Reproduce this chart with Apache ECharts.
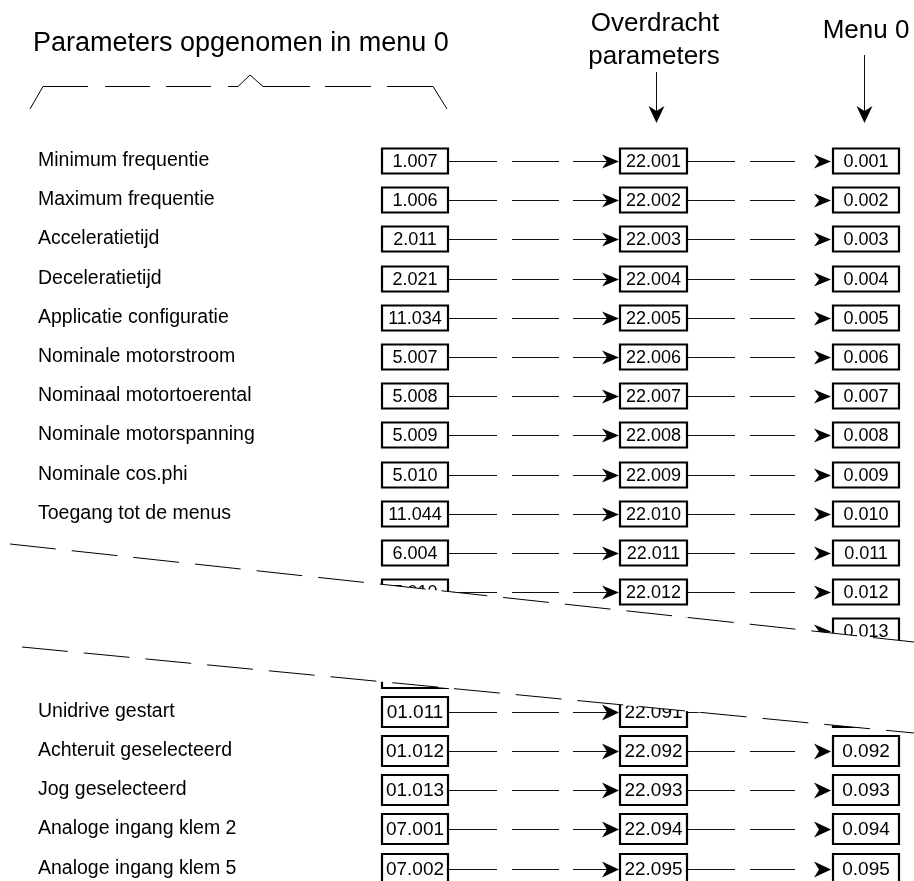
<!DOCTYPE html>
<html>
<head>
<meta charset="utf-8">
<script src="https://cdn.jsdelivr.net/npm/echarts@6/dist/echarts.min.js"></script>
<style>
html, body { margin: 0; padding: 0; background: #fff; }
#main { width: 914px; height: 881px; }
</style>
</head>
<body>
<div id="main"></div>
<script>
// rij-posities (in rijen), de onderste groep staat iets lager door de onderbreking
var rowSlots = [0, 1, 2, 3, 4, 5, 6, 7, 8, 9, 10, 11, 12, 13.05, 14.05, 15.05, 16.05, 17.05, 18.05];
var rowNames = ['Minimum frequentie', 'Maximum frequentie', 'Acceleratietijd', 'Deceleratietijd',
    'Applicatie configuratie', 'Nominale motorstroom', 'Nominaal motortoerental',
    'Nominale motorspanning', 'Nominale cos.phi', 'Toegang tot de menus', '', '', '', '',
    'Unidrive gestart', 'Achteruit geselecteerd', 'Jog geselecteerd',
    'Analoge ingang klem 2', 'Analoge ingang klem 5'];
var sourceParams = ['1.007', '1.006', '2.011', '2.021', '11.034', '5.007', '5.008', '5.009', '5.010',
    '11.044', '6.004', '7.010', '', '', '01.011', '01.012', '01.013', '07.001', '07.002'];
var transferParams = ['22.001', '22.002', '22.003', '22.004', '22.005', '22.006', '22.007', '22.008',
    '22.009', '22.010', '22.011', '22.012', '22.013', '22.090', '22.091', '22.092', '22.093', '22.094', '22.095'];
var menuParams = ['0.001', '0.002', '0.003', '0.004', '0.005', '0.006', '0.007', '0.008', '0.009',
    '0.010', '0.011', '0.012', '0.013', '0.090', '0.091', '0.092', '0.093', '0.094', '0.095'];

var FONT = '"Liberation Sans", Arial, sans-serif';

var myChart = echarts.init(document.getElementById('main'));

function renderRow(params, api) {
    var i = api.value(2);
    var y = Math.round(api.coord([0, api.value(1)])[1]);
    var lower = i >= 13;
    var h = lower ? 30 : 25;
    var fs = lower ? 19 : 18;
    var ah = lower ? 8 : 7;
    var X = function (v) { return api.coord([v, 0])[0]; };
    var children = [];

    function box(x0, x1, txt) {
        children.push({
            type: 'rect',
            shape: { x: X(x0), y: y - h / 2, width: X(x1) - X(x0), height: h },
            style: { fill: '#fff', stroke: '#000', lineWidth: 2.2 }
        });
        if (txt) {
            children.push({
                type: 'text', x: (X(x0) + X(x1)) / 2, y: y + 1,
                style: { text: txt, fill: '#000', font: fs + 'px ' + FONT, align: 'center', verticalAlign: 'middle' }
            });
        }
    }
    function seg(a, b) {
        children.push({
            type: 'line',
            shape: { x1: X(a), y1: y + 0.5, x2: X(b), y2: y + 0.5 },
            style: { stroke: '#111', lineWidth: 1 }
        });
    }
    function arrow(tip) {
        var t = X(tip);
        children.push({
            type: 'polygon',
            shape: { points: [[t, y + 0.5], [t - 17, y + 0.5 - ah], [t - 12, y + 0.5], [t - 17, y + 0.5 + ah]] },
            style: { fill: '#000' }
        });
    }

    if (rowNames[i]) {
        children.push({
            type: 'text', x: X(38), y: y,
            style: { text: rowNames[i], fill: '#000', font: '19.5px ' + FONT, align: 'left', verticalAlign: 'middle' }
        });
    }
    // verbindingen bron -> overdracht
    seg(448, 497); seg(512, 559); seg(573, 610); arrow(619);
    // overdracht -> menu 0
    seg(687, 735); seg(750, 795); arrow(831);

    box(382, 448, sourceParams[i]);
    box(620, 687, transferParams[i]);
    box(833, 899, menuParams[i]);

    return { type: 'group', children: children };
}

function dashedLine(points) {
    return { type: 'polyline', z: 10, shape: { points: points }, style: { stroke: '#000', lineWidth: 1, fill: null } };
}

var option = {
    animation: false,
    grid: { left: 0, right: 0, top: 0, bottom: 0 },
    xAxis: { type: 'value', min: 0, max: 914, show: false },
    yAxis: { type: 'value', min: -4.107, max: 18.367, inverse: true, show: false },
    graphic: [
        { type: 'text', x: 33, y: 44, style: { text: 'Parameters opgenomen in menu 0', fill: '#000', font: '27px ' + FONT, verticalAlign: 'middle' } },
        { type: 'text', x: 655, y: 24, style: { text: 'Overdracht', fill: '#000', font: '26px ' + FONT, align: 'center', verticalAlign: 'middle' } },
        { type: 'text', x: 654, y: 57, style: { text: 'parameters', fill: '#000', font: '26px ' + FONT, align: 'center', verticalAlign: 'middle' } },
        { type: 'text', x: 866, y: 31, style: { text: 'Menu 0', fill: '#000', font: '26px ' + FONT, align: 'center', verticalAlign: 'middle' } },
        // pijlen onder de kopjes
        { type: 'line', shape: { x1: 656.5, y1: 72, x2: 656.5, y2: 112 }, style: { stroke: '#111', lineWidth: 1 } },
        { type: 'polygon', shape: { points: [[656.5, 123], [648.5, 106], [656.5, 111], [664.5, 106]] }, style: { fill: '#000' } },
        { type: 'line', shape: { x1: 864.5, y1: 55, x2: 864.5, y2: 112 }, style: { stroke: '#111', lineWidth: 1 } },
        { type: 'polygon', shape: { points: [[864.5, 123], [856.5, 106], [864.5, 111], [872.5, 106]] }, style: { fill: '#000' } },
        // accolade onder "Parameters opgenomen in menu 0"
        dashedLine([[30, 109], [43, 86.5], [88, 86.5]]),
        dashedLine([[105, 86.5], [150, 86.5]]),
        dashedLine([[166, 86.5], [211, 86.5]]),
        dashedLine([[228, 86.5], [238, 86.5], [250, 75], [263, 86.5], [310, 86.5]]),
        dashedLine([[325, 86.5], [371, 86.5]]),
        dashedLine([[387, 86.5], [433, 86.5], [447, 109]]),
        // onderbreking van de lijst
        { type: 'polygon', z: 100, shape: { points: [[0, 543], [914, 642], [914, 733], [0, 645]] }, style: { fill: '#fff' } },
        { type: 'line', z: 101, shape: { x1: 10, y1: 544, x2: 914, y2: 642 }, style: { stroke: '#000', lineWidth: 1, lineDash: [46, 16] } },
        { type: 'line', z: 101, shape: { x1: 22, y1: 647, x2: 914, y2: 733 }, style: { stroke: '#000', lineWidth: 1, lineDash: [46, 16] } }
    ],
    series: [
        {
            type: 'custom',
            clip: false,
            renderItem: renderRow,
            data: rowSlots.map(function (s, i) { return [0, s, i]; })
        }
    ]
};

myChart.setOption(option);
</script>
</body>
</html>
